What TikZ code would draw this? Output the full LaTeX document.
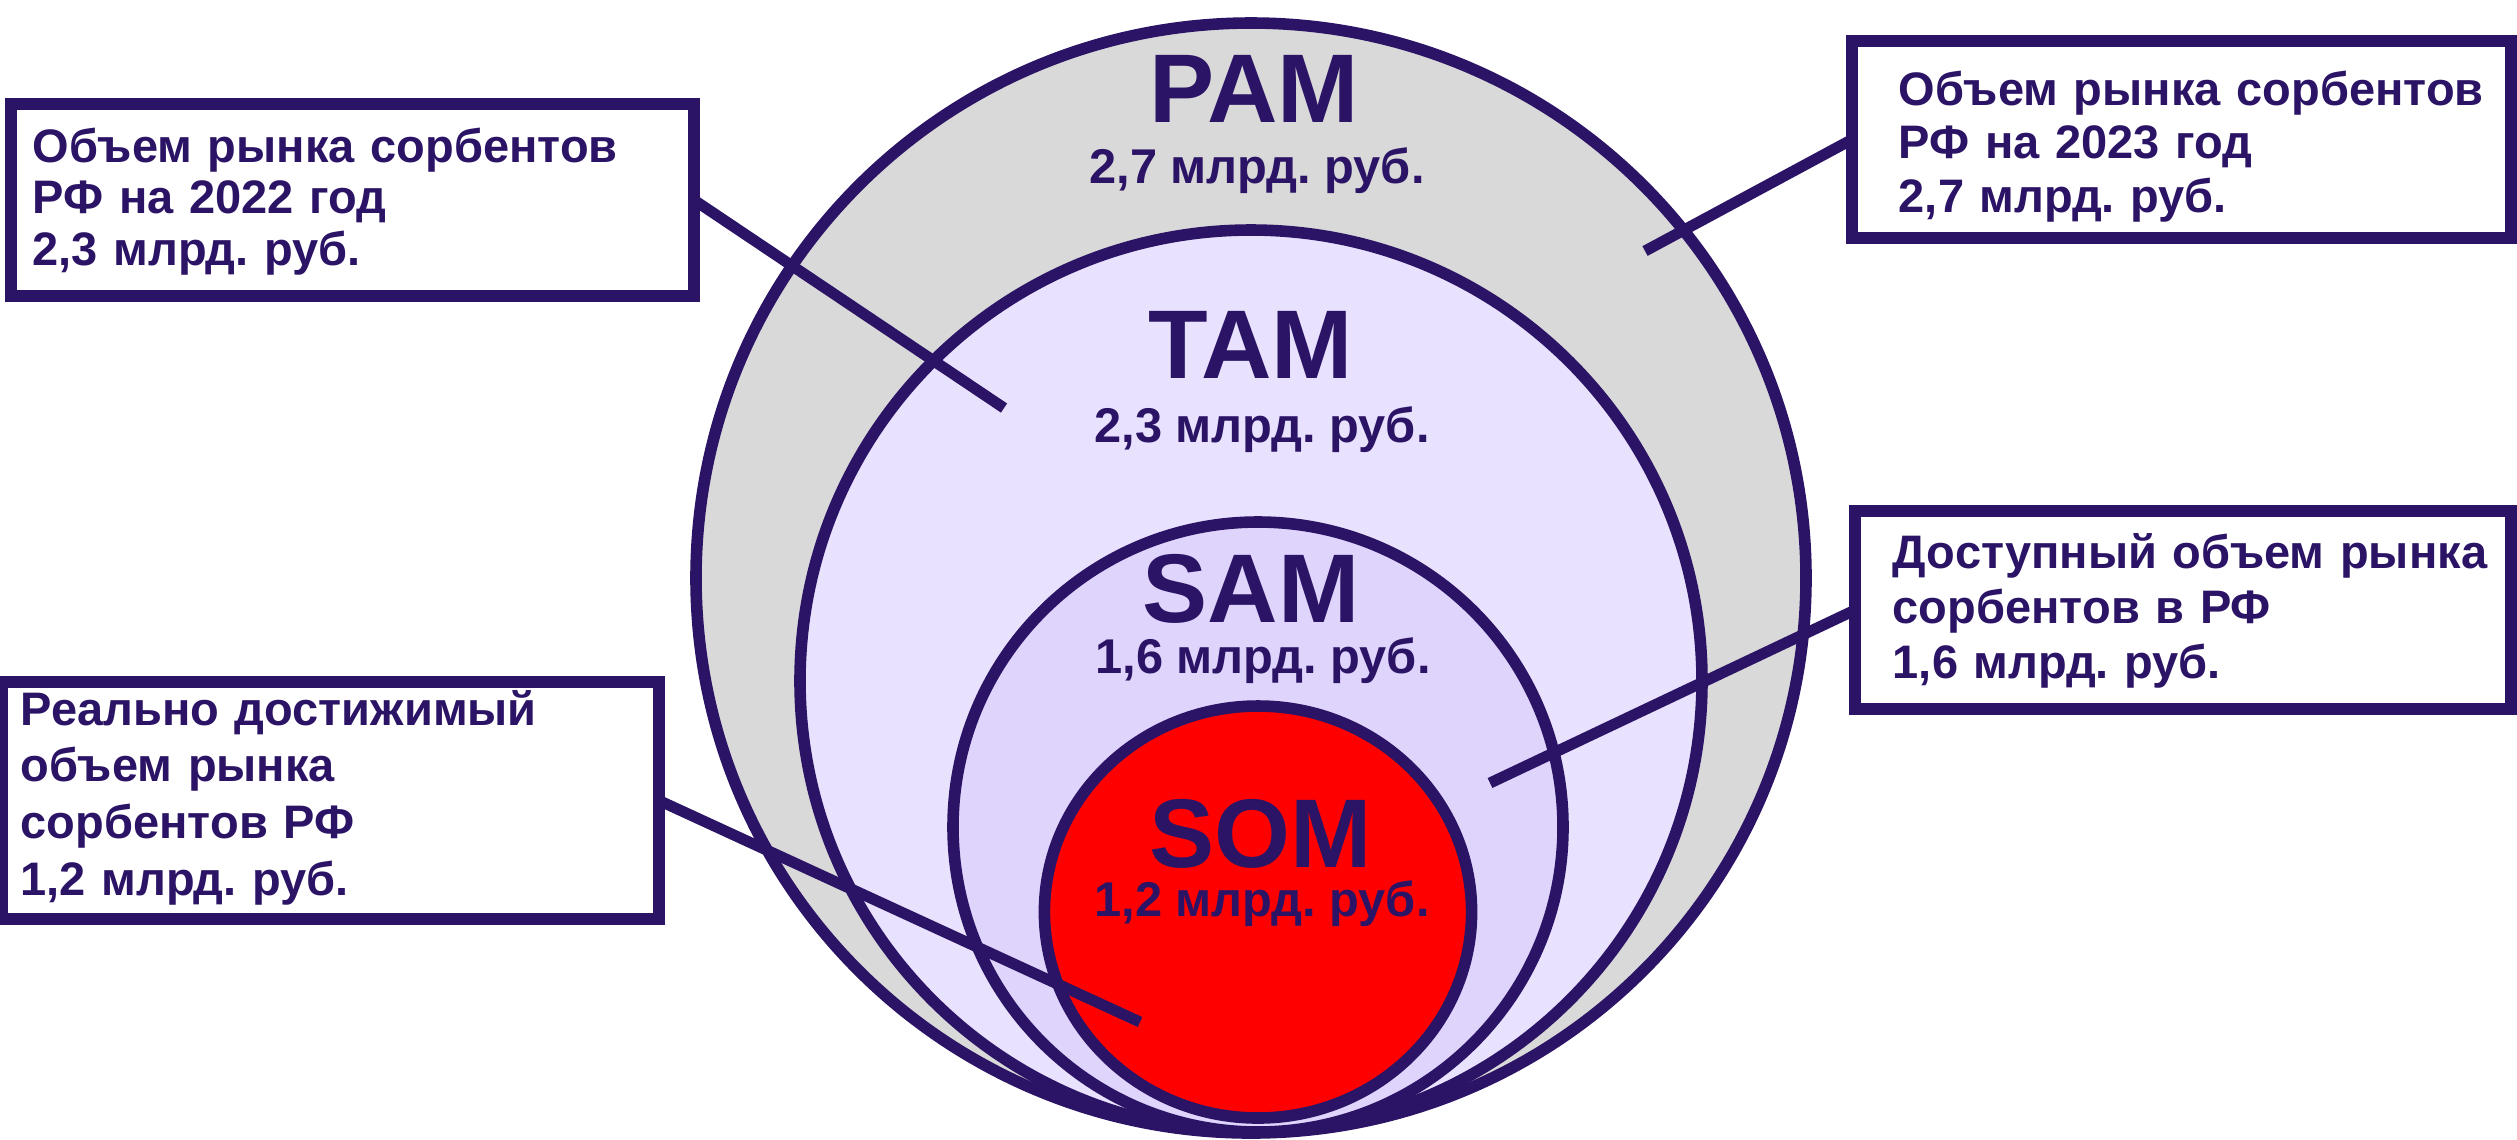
\documentclass[tikz,border=0pt]{standalone}
\usepackage{fontspec}
\setmainfont{Liberation Sans}
\frenchspacing
\definecolor{ink}{RGB}{43,20,102}
\definecolor{pamfill}{RGB}{217,217,217}
\definecolor{tamfill}{RGB}{232,226,254}
\definecolor{samfill}{RGB}{222,212,252}
\definecolor{somfill}{RGB}{255,0,0}
\begin{document}
\begin{tikzpicture}[x=0.25pt,y=-0.25pt,
  ring/.style={draw=ink,line width=2.9pt},
  lbl/.style={text=ink,font=\bfseries\fontsize{24.4}{26}\selectfont,inner sep=0pt,anchor=base},
  val/.style={text=ink,font=\bfseries\fontsize{12.2}{14}\selectfont,inner sep=0pt,anchor=base},
  callout/.style={draw=ink,fill=white,line width=3pt,rectangle,inner sep=0pt,outer sep=0pt},
  note/.style={text=ink,font=\bfseries\fontsize{11.75}{#1}\selectfont,align=left,
    text width=160pt,inner sep=0pt,anchor=base west},
  leader/.style={draw=ink,line width=2.75pt}]

\useasboundingbox (0,0) rectangle (2517,1139);

% nested market circles, all touching at the bottom
\draw[ring,fill=pamfill] (1251,578) circle [radius=138.75pt];
\draw[ring,fill=tamfill] (1251,681) circle [radius=112.75pt];
\draw[ring,fill=samfill] (1258,827) circle [radius=76.25pt];
\draw[ring,fill=somfill] (1258,912) ellipse [x radius=53.4pt,y radius=51.5pt];

% circle labels
\node[lbl] (pam) at (1254,122) {PAM};
\node[val] (pamv) at (1257,183) {2,7 млрд. руб.};
\node[lbl] (tam) at (1251,378) {TAM};
\node[val] (tamv) at (1262,442) {2,3 млрд. руб.};
\node[lbl] (sam) at (1251,622) {SAM};
\node[val] (samv) at (1263,673) {1,6 млрд. руб.};
\node[lbl] (som) at (1261,867) {SOM};
\node[val] (somv) at (1262,916) {1,2 млрд. руб.};

% callout boxes
\node[callout,minimum width=170.75pt,minimum height=48pt] (b1) at (352.5,200) {};
\node[callout,minimum width=164.75pt,minimum height=49.25pt] (b2) at (2181.5,139.5) {};
\node[callout,minimum width=164pt,minimum height=49.5pt] (b3) at (2183,610) {};
\node[callout,minimum width=164.25pt,minimum height=59.25pt] (b4) at (330.5,800.5) {};

% free ends of the leader lines
\coordinate (e1) at (1004,408);
\coordinate (e2) at (1645,251);
\coordinate (e3) at (1490,783);
\coordinate (e4) at (1140,1022);

% leaders from the box borders into the circles
\draw[leader] (b1.east) -- (e1);
\draw[leader] (b2.west) -- (e2);
\draw[leader] (b3.west) -- (e3);
\draw[leader] (b4.east) -- (e4);

% callout texts
\node[note=12.9pt] (t1) at (32,162) {Объем рынка сорбентов\\РФ на 2022 год\\2,3 млрд. руб.};
\node[note=13.4pt] (t2) at (1898,105) {Объем рынка сорбентов\\РФ на 2023 год\\2,7 млрд. руб.};
\node[note=13.75pt] (t3) at (1892,568) {Доступный объем рынка\\сорбентов в РФ\\1,6 млрд. руб.};
\node[note=14.2pt] (t4) at (20,725) {Реально достижимый\\объем рынка\\сорбентов РФ\\1,2 млрд. руб.};
\end{tikzpicture}
\end{document}
